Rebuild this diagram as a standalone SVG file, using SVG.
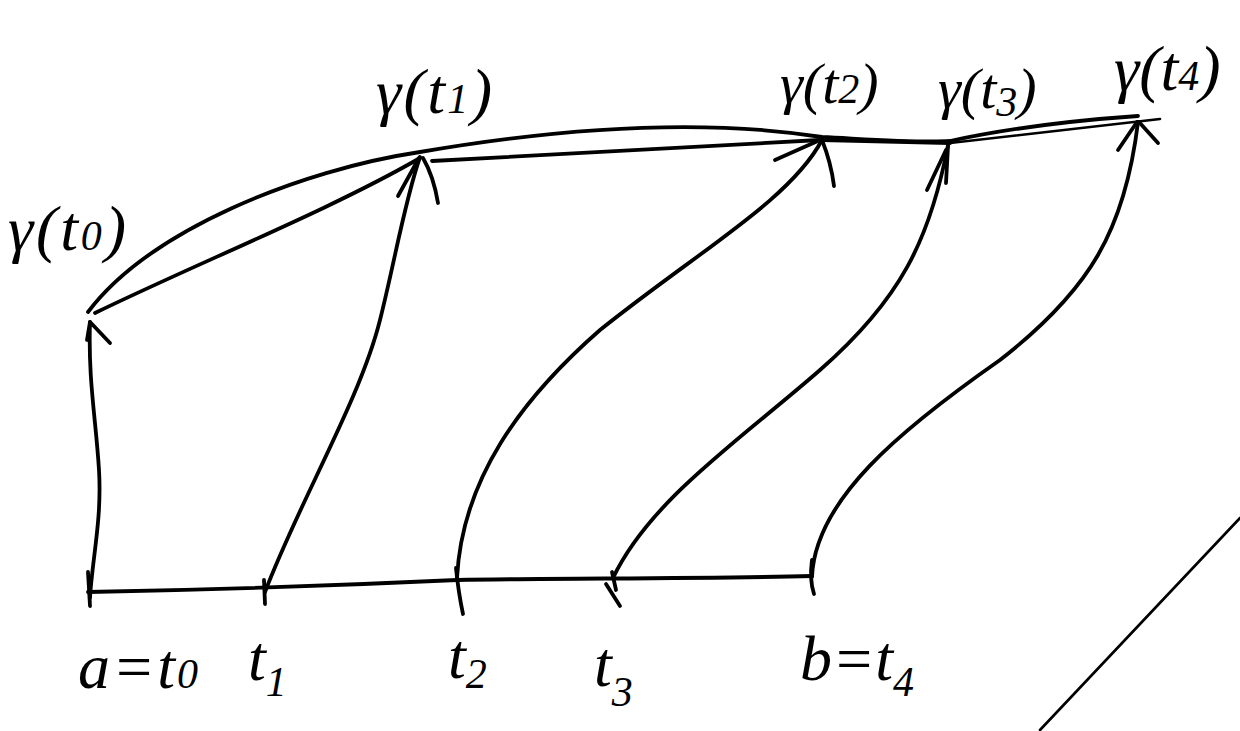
<svg xmlns="http://www.w3.org/2000/svg" width="1240" height="731" viewBox="0 0 1240 731">
  <style>
    .ink { fill: none; stroke: #000; stroke-width: 3.8; stroke-linecap: round; stroke-linejoin: round; }
    .thin { stroke-width: 2.6; }
    .lbl { font-family: "Liberation Serif", "DejaVu Serif", serif; font-style: italic; font-size: 64px; fill: #000; }
    .small { font-size: 58px; }
    .sub { font-size: 42px; }
  </style>
  <rect width="1240" height="731" fill="#fff"/>

  <!-- parameter interval [a, b] with the partition ticks -->
  <g id="axis">
    <path class="ink" d="M88,592 C200,590 350,585 457,580 C550,578 700,579 812,576"/>
    <path class="ink" d="M88,572 L90,606"/>
    <path class="ink" d="M264,580 L265,604"/>
    <path class="ink" d="M456,568 C458,588 460,600 463,614"/>
    <path class="ink" d="M606,584 L620,606 M612,572 L616,590"/>
    <path class="ink" d="M812,560 C810,575 811,585 814,594"/>
  </g>

  <!-- the curve gamma through the image points -->
  <g id="curve">
    <path class="ink" d="M88,312 C150,230 300,170 420,152 C560,128 700,118 822,137 C880,140 920,143 950,141 C1010,128 1080,120 1138,116"/>
  </g>

  <!-- inscribed polygon (chords between consecutive points) -->
  <g id="chords">
    <path class="ink" d="M95,313 C200,262 330,210 420,158"/>
    <path class="ink" d="M432,161 L820,140"/>
    <path class="ink" d="M822,140 L950,143"/>
    <path class="ink thin" d="M950,143 L1160,119"/>
  </g>

  <!-- connectors: each partition point mapped onto the curve -->
  <g id="connectors">
    <path class="ink" d="M90,598 C92,560 102,520 99,470 C96,420 88,380 90,322"/>
    <path class="ink" d="M90,322 L87,340 M91,323 L110,343"/>

    <path class="ink" d="M265,592 C300,500 360,400 380,320 C395,260 405,200 420,157"/>
    <path class="ink" d="M419,158 L398,196 M423,158 C430,170 435,185 438,203"/>

    <path class="ink" d="M457,578 C462,480 520,400 600,330 C700,250 790,200 822,140"/>
    <path class="ink" d="M820,140 L775,160 M822,140 C828,155 832,170 834,186"/>

    <path class="ink" d="M613,578 C650,500 740,440 820,370 C900,300 930,240 948,145"/>
    <path class="ink" d="M946,150 L927,190 M948,146 L946,183"/>

    <path class="ink" d="M812,577 C815,500 900,430 1000,360 C1090,290 1125,230 1138,122"/>
    <path class="ink" d="M1137,122 L1118,150 M1139,122 L1158,143"/>
  </g>

  <!-- stray stroke at the lower right -->
  <g id="stroke">
    <path class="ink thin" d="M1040,730 L1240,518"/>
  </g>

  <!-- labels of the curve points -->
  <g id="label-g0"><text class="lbl" x="8" y="250" textLength="118">γ(t<tspan class="sub">0</tspan>)</text></g>
  <g id="label-g1"><text class="lbl" x="376" y="113" textLength="116">γ(t<tspan class="sub">1</tspan>)</text></g>
  <g id="label-g2"><text class="lbl small" x="780" y="103">γ(t<tspan class="sub">2</tspan>)</text></g>
  <g id="label-g3"><text class="lbl small" x="938" y="108">γ(t<tspan class="sub" dy="8">3</tspan><tspan dy="-8">)</tspan></text></g>
  <g id="label-g4"><text class="lbl" x="1114" y="90">γ(t<tspan class="sub">4</tspan>)</text></g>

  <!-- labels of the partition points -->
  <g id="label-t0"><text class="lbl" x="78" y="688" textLength="120">a=t<tspan class="sub">0</tspan></text></g>
  <g id="label-t1"><text class="lbl" x="248" y="680">t<tspan class="sub" dy="16">1</tspan></text></g>
  <g id="label-t2"><text class="lbl" x="448" y="678">t<tspan class="sub" dy="10">2</tspan></text></g>
  <g id="label-t3"><text class="lbl" x="594" y="686">t<tspan class="sub" dy="20">3</tspan></text></g>
  <g id="label-t4"><text class="lbl" x="800" y="680">b=t<tspan class="sub" dy="16">4</tspan></text></g>
</svg>
